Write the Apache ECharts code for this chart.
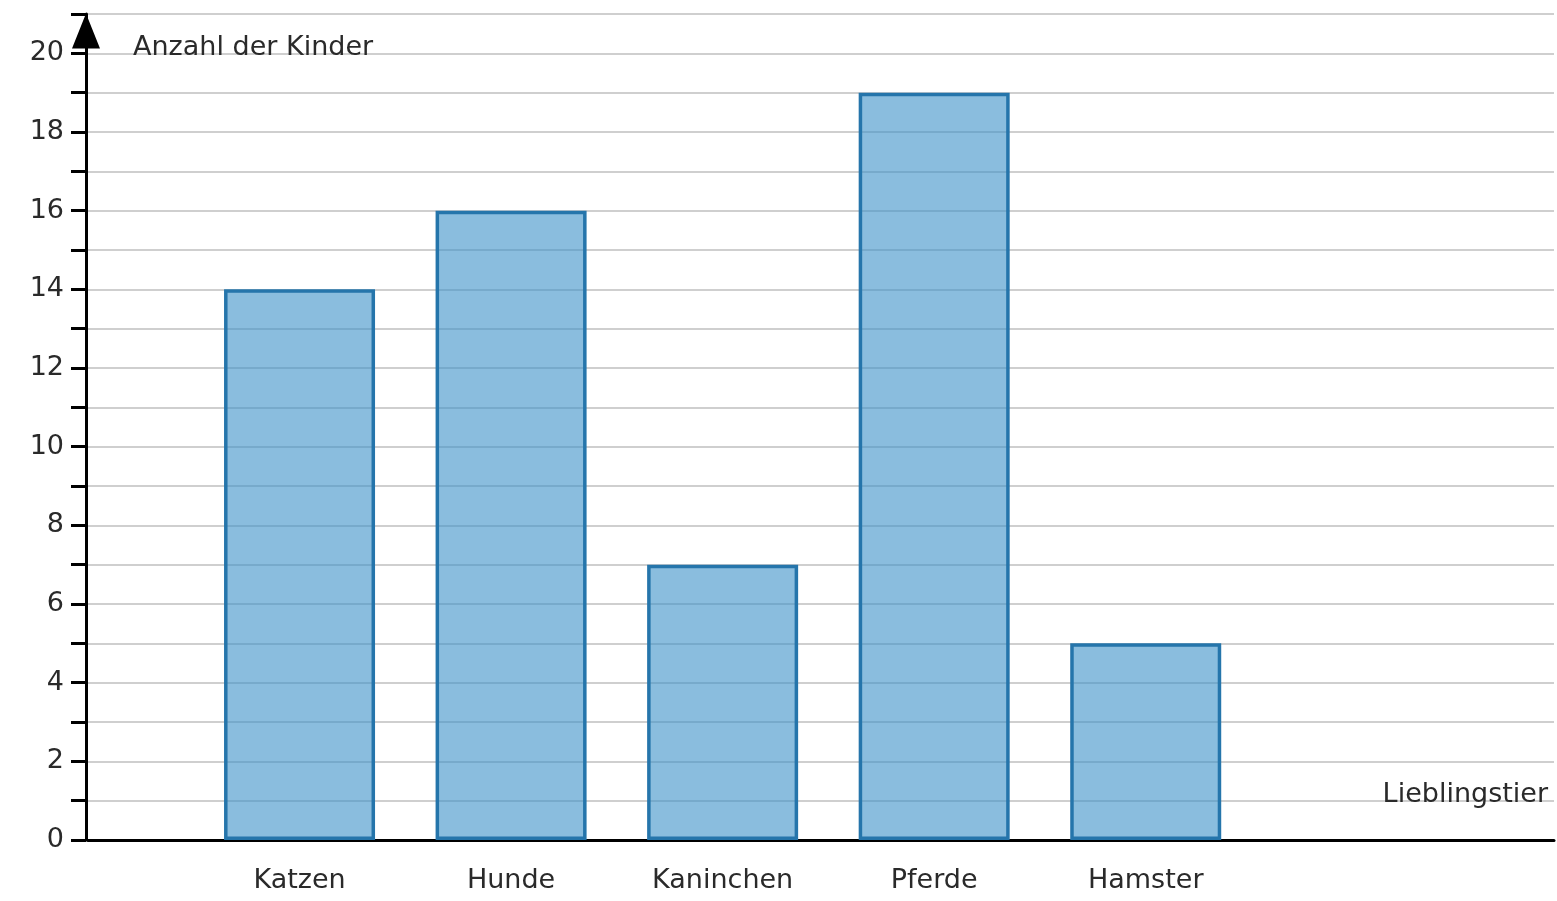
<!DOCTYPE html>
<html>
<head>
<meta charset="utf-8">
<script src="https://cdn.jsdelivr.net/npm/echarts@6/dist/echarts.min.js"></script>
<style>
html,body{margin:0;padding:0;background:#fff;overflow:hidden;}
#chart{width:1557px;height:901px;}
</style>
</head>
<body>
<div id="chart"></div>
<script>
const categories = ['Katzen', 'Hunde', 'Kaninchen', 'Pferde', 'Hamster'];
const values = [14, 16, 7, 19, 5];
const yAxisName = 'Anzahl der Kinder';
const xAxisName = 'Lieblingstier';

const chart = echarts.init(document.getElementById('chart'));
const fontFamily = 'DejaVu Sans';
const textColor = '#2a2a2a';
chart.setOption({
  animation: false,
  grid: { left: 88, right: 0, top: 14, bottom: 61, containLabel: false },
  xAxis: {
    type: 'value',
    min: 0,
    max: 6.93,
    interval: 1,
    name: xAxisName,
    nameLocation: 'end',
    nameGap: -6,
    nameTextStyle: { fontFamily, fontSize: 27, color: textColor, align: 'right', verticalAlign: 'bottom', padding: [0, 0, 32, 0] },
    axisLine: { onZero: true, lineStyle: { color: '#000', width: 3 } },
    axisTick: { show: false },
    splitLine: { show: false },
    axisLabel: {
      fontFamily, fontSize: 27, color: textColor, margin: 27,
      formatter: function (v) { const i = Math.round(v); return (Math.abs(v - i) < 1e-6 && i >= 1 && i <= categories.length) ? categories[i - 1] : ''; }
    }
  },
  yAxis: {
    type: 'value',
    min: 0,
    max: 21,
    interval: 1,
    offset: 2,
    name: yAxisName,
    nameLocation: 'end',
    nameGap: -34,
    nameTextStyle: { fontFamily, fontSize: 27, color: textColor, align: 'left', verticalAlign: 'middle', padding: [0, 0, 0, 47] },
    axisLine: { show: true, onZero: false, lineStyle: { color: '#000', width: 3 }, symbol: ['none', 'triangle'], symbolSize: [28, 35], symbolOffset: [0, -17] },
    axisTick: { show: true, length: 15, lineStyle: { color: '#000', width: 3 } },
    axisLabel: {
      fontFamily, fontSize: 27, color: textColor, margin: 22,
      formatter: function (v) { return (v % 2 === 0 && v <= 20) ? String(v) : ''; }
    },
    splitLine: { show: true, lineStyle: { color: '#cfcfcf', width: 2 } }
  },
  series: [{
    type: 'bar',
    data: categories.map((c, i) => [i + 1, values[i]]),
    barWidth: 151,
    itemStyle: { color: 'rgba(60,145,200,0.6)', borderColor: '#2575ab', borderWidth: 3.5 }
  }]
});
</script>
</body>
</html>
